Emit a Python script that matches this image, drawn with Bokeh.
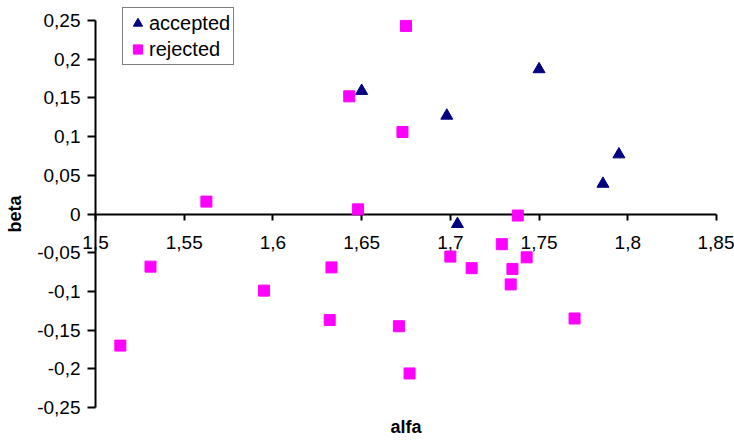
from bokeh.plotting import figure
from bokeh.models import Range1d, FixedTicker, LinearAxis, Legend, LegendItem
from bokeh.embed import file_html
from bokeh.resources import INLINE

# accepted (alfa, beta)
acc_alfa = [1.650, 1.698, 1.750, 1.795, 1.786, 1.704]
acc_beta = [0.159, 0.127, 0.187, 0.077, 0.039, -0.013]

# rejected (alfa, beta)
rej_alfa = [1.5625, 1.531, 1.514, 1.675, 1.643, 1.673, 1.648, 1.738, 1.595, 1.633,
            1.632, 1.671, 1.677, 1.700, 1.712, 1.729, 1.743, 1.735, 1.734, 1.770]
rej_beta = [0.016, -0.068, -0.170, 0.243, 0.152, 0.106, 0.006, -0.002, -0.099, -0.069,
            -0.137, -0.145, -0.206, -0.055, -0.070, -0.039, -0.056, -0.071, -0.091, -0.135]

x_ticks = [1.5, 1.55, 1.6, 1.65, 1.7, 1.75, 1.8, 1.85]
x_labels = ["1,5", "1,55", "1,6", "1,65", "1,7", "1,75", "1,8", "1,85"]
y_ticks = [-0.25, -0.2, -0.15, -0.1, -0.05, 0, 0.05, 0.1, 0.15, 0.2, 0.25]
y_labels = ["-0,25", "-0,2", "-0,15", "-0,1", "-0,05", "0", "0,05", "0,1", "0,15", "0,2", "0,25"]

X_MIN, X_MAX = 1.5, 1.85
Y_MIN, Y_MAX = -0.25, 0.25

FONT = "Liberation Sans"
TICK_SIZE = "19px"

W, H = 734, 441
# plot area in pixels inside the canvas (axes are drawn inside the frame so
# that the end labels "1,5" and "1,85" are not clipped)
AX_L, AX_R, AX_T, AX_B = 95, 716, 20, 407
sx = (X_MAX - X_MIN) / (AX_R - AX_L)
sy = (Y_MAX - Y_MIN) / (AX_B - AX_T)
x_range = Range1d(X_MIN - AX_L * sx, X_MAX + (W - AX_R) * sx)
y_range = Range1d(Y_MIN - (H - AX_B) * sy, Y_MAX + AX_T * sy)

p = figure(width=W, height=H, x_range=x_range, y_range=y_range,
           output_backend="svg", toolbar_location=None,
           min_border=0, min_border_left=0, min_border_right=0,
           min_border_top=0, min_border_bottom=0)
p.xgrid.visible = False
p.ygrid.visible = False
p.outline_line_color = None
p.background_fill_color = "white"
p.border_fill_color = "white"

# x axis crossing at beta = 0
xa = p.xaxis[0]
xa.fixed_location = 0
xa.bounds = (X_MIN, X_MAX)
xa.ticker = FixedTicker(ticks=x_ticks)
xa.major_label_overrides = dict(zip(x_ticks, x_labels))
xa.major_tick_in = 0
xa.major_tick_out = 6
xa.minor_tick_in = 0
xa.minor_tick_out = 0
xa.axis_line_width = 2
xa.axis_line_color = "black"
xa.major_tick_line_width = 2
xa.major_tick_line_color = "black"
xa.major_label_text_font = FONT
xa.major_label_text_font_size = TICK_SIZE
xa.major_label_text_color = "black"
xa.major_label_standoff = 16
xa.level = "underlay"

# axis title "alfa" at the bottom of the plot area
lab = LinearAxis(axis_label="alfa", ticker=FixedTicker(ticks=[]),
                 fixed_location=Y_MIN, bounds=(X_MIN, X_MAX),
                 axis_line_color=None, major_tick_in=0, major_tick_out=0,
                 minor_tick_in=0, minor_tick_out=0,
                 major_label_text_font_size="0px",
                 axis_label_standoff=9,
                 axis_label_text_font=FONT, axis_label_text_font_size="18px",
                 axis_label_text_font_style="bold", axis_label_text_color="black")
p.add_layout(lab, "below")

# y axis at alfa = 1.5
ya = p.yaxis[0]
ya.fixed_location = X_MIN
ya.bounds = (Y_MIN, Y_MAX)
ya.ticker = FixedTicker(ticks=y_ticks)
ya.major_label_overrides = dict(zip(y_ticks, y_labels))
ya.major_tick_in = 0
ya.major_tick_out = 8
ya.minor_tick_in = 0
ya.minor_tick_out = 0
ya.axis_line_width = 2
ya.axis_line_color = "black"
ya.major_tick_line_width = 2
ya.major_tick_line_color = "black"
ya.major_label_text_font = FONT
ya.major_label_text_font_size = TICK_SIZE
ya.major_label_text_color = "black"
ya.major_label_standoff = 7
ya.axis_label = "beta"
ya.axis_label_text_font = FONT
ya.axis_label_text_font_size = "18px"
ya.axis_label_text_font_style = "bold"
ya.axis_label_text_color = "black"
ya.axis_label_standoff = 9
ya.level = "underlay"

r_acc = p.scatter(acc_alfa, acc_beta, marker="triangle", size=12,
                  fill_color="#000080", line_color="#000080")
r_rej = p.scatter(rej_alfa, rej_beta, marker="square", size=11,
                  fill_color="#FF00FF", line_color="#FF00FF")

legend = Legend(items=[LegendItem(label="accepted", renderers=[r_acc]),
                       LegendItem(label="rejected", renderers=[r_rej])],
                location=(122, H - 65),
                border_line_color="black", border_line_width=1,
                background_fill_color="white", background_fill_alpha=1.0,
                padding=3, spacing=2, margin=0,
                glyph_width=23, glyph_height=24, label_standoff=0,
                label_height=20,
                label_text_font=FONT, label_text_font_size="20px",
                label_text_color="black")
p.add_layout(legend)

open("out.html", "w").write(file_html(p, INLINE))
